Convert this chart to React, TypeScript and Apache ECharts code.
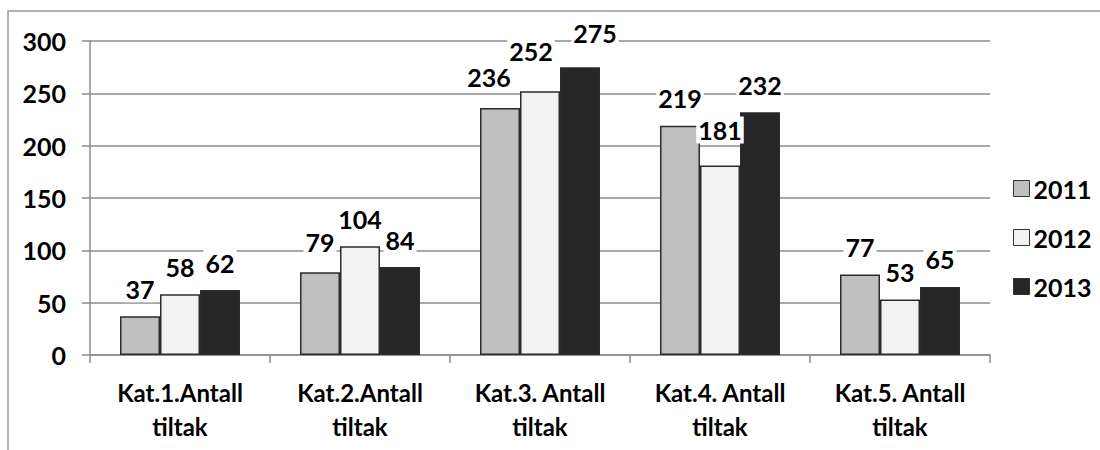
import React, { useEffect, useRef } from "react";
import * as echarts from "echarts";

const categories = [
  "Kat.1.Antall\ntiltak",
  "Kat.2.Antall\ntiltak",
  "Kat.3. Antall\ntiltak",
  "Kat.4. Antall\ntiltak",
  "Kat.5. Antall\ntiltak",
];
const seriesNames = ["2011", "2012", "2013"];
const values2011 = [37, 79, 236, 219, 77];
const values2012 = [58, 104, 252, 181, 53];
const values2013 = [62, 84, 275, 232, 65];
const seriesColors = ["#bfbfbf", "#f2f2f2", "#262626"];

const FONT = "Lato";

export default function App() {
  const ref = useRef<HTMLDivElement>(null);
  useEffect(() => {
    document.body.style.margin = "0";
    const chart = echarts.init(ref.current!, null, { renderer: "svg" });
    const allValues = [values2011, values2012, values2013];
    // small label nudges mimicking the original's overlap avoidance (series-category)
    const nudges: Record<string, [number, number]> = {
      "0-2": [-11, -3],
      "1-2": [-9, -13],
      "2-2": [15, -7],
      "1-3": [0, -8],
      "0-1": [0, -3],
    };
    const labelStyle = {
      show: true,
      position: "top",
      distance: 14,
      color: "#000",
      fontFamily: FONT,
      fontWeight: "bold",
      fontSize: 25,
      backgroundColor: "#fff",
      padding: [1, 2],
    };
    chart.setOption({
      animation: false,
      backgroundColor: "#fff",
      graphic: [
        {
          type: "rect",
          shape: { x: 8, y: 11, width: 1200, height: 600 },
          style: { fill: "none", stroke: "#9a9a9a", lineWidth: 1.5 },
          z: -1,
        },
      ],
      grid: { left: 90, right: 110, top: 41, bottom: 95 },
      legend: {
        orient: "vertical",
        left: 1008,
        top: 171,
        itemWidth: 16,
        itemHeight: 16,
        itemGap: 24,
        icon: "rect",
        textStyle: {
          fontFamily: FONT,
          fontWeight: "bold",
          fontSize: 25,
          color: "#000",
          padding: [0, 0, 0, -1],
        },
        itemStyle: { borderColor: "#333", borderWidth: 1 },
        data: seriesNames,
      },
      xAxis: {
        type: "category",
        data: categories,
        axisLine: { lineStyle: { color: "#8c8c8c", width: 1.5 } },
        axisTick: { show: true, length: 8, lineStyle: { color: "#8c8c8c", width: 1.5 } },
        axisLabel: {
          interval: 0,
          margin: 20,
          color: "#000",
          fontFamily: FONT,
          fontWeight: "bold",
          fontSize: 24,
          lineHeight: 34,
        },
      },
      yAxis: {
        type: "value",
        min: 0,
        max: 300,
        interval: 50,
        axisLine: { show: true, lineStyle: { color: "#8c8c8c", width: 1.5 } },
        axisTick: { show: true, length: 8, lineStyle: { color: "#8c8c8c", width: 1.5 } },
        splitLine: { lineStyle: { color: "#8c8c8c", width: 1.5 } },
        axisLabel: {
          margin: 24,
          color: "#000",
          fontFamily: FONT,
          fontWeight: "bold",
          fontSize: 25,
        },
      },
      series: seriesNames.map((name, i) => ({
        name,
        type: "bar",
        barWidth: 40,
        barGap: "0%",
        data: allValues[i],
        itemStyle: {
          color: seriesColors[i],
          borderColor: "#2b2b2b",
          borderWidth: 1.5,
        },
        label: labelStyle,
        labelLayout: (params: any) => {
          const n = nudges[`${i}-${params.dataIndex}`];
          if (!n) return {};
          return { dx: n[0], dy: n[1] };
        },
      })),
    });
    return () => chart.dispose();
  }, []);
  return <div ref={ref} style={{ width: 1100, height: 450 }} />;
}
